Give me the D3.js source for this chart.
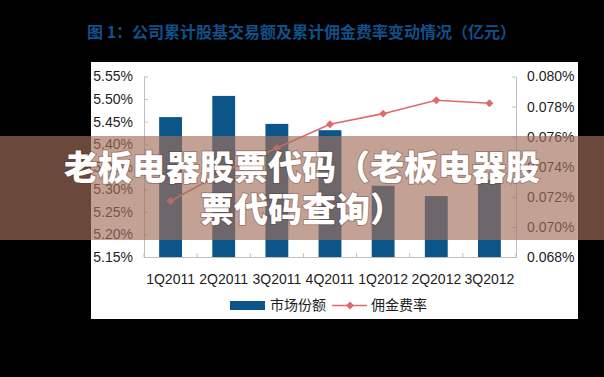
<!DOCTYPE html>
<html><head><meta charset="utf-8">
<script src="https://cdn.jsdelivr.net/npm/d3@7"></script>
<style>
html,body{margin:0;padding:0;background:#000;}
svg{display:block;}
</style></head>
<body>
<script>
const categories = ["1Q2011","2Q2011","3Q2011","4Q2011","1Q2012","2Q2012","3Q2012"];
const marketShare = [5.460, 5.507, 5.445, 5.431, 5.308, 5.285, 5.321];
const commissionRate = [0.07172, 0.07365, 0.07525, 0.07682, 0.07753, 0.07842, 0.07822];
const leftTicks = [5.15, 5.20, 5.25, 5.30, 5.35, 5.40, 5.45, 5.50, 5.55];
const rightTicks = [0.068, 0.070, 0.072, 0.074, 0.076, 0.078, 0.080];
const seriesNames = ["市场份额", "佣金费率"];
const titleText = "图 1：公司累计股基交易额及累计佣金费率变动情况（亿元）";
const overlayLines = ["老板电器股票代码（老板电器股", "票代码查询）"];

const W = 604, H = 377;
const svg = d3.select("body").append("svg").attr("width", W).attr("height", H);
svg.append("rect").attr("width", W).attr("height", H).attr("fill", "#000");

// title
svg.append("text").attr("x", 87).attr("y", 32.5).attr("dy", "0.35em")
  .attr("font-family", "'Noto Sans CJK SC', sans-serif").attr("font-weight", 700)
  .attr("font-size", 16).attr("fill", "#12508a").text(titleText);

// chart panel
svg.append("rect").attr("x", 91).attr("y", 62).attr("width", 487).attr("height", 257).attr("fill", "#fff");

const x = d3.scaleBand().domain(categories).range([144, 516]).paddingInner(0.57).paddingOuter(0.285);
const yL = d3.scaleLinear().domain([5.15, 5.55]).range([257, 76.5]);
const yR = d3.scaleLinear().domain([0.068, 0.080]).range([257, 76.5]);

const font = "'Liberation Sans', Arial, sans-serif";
const axisColor = "#bfbfbf";

// bars
svg.append("g").selectAll("rect").data(categories).join("rect")
  .attr("x", d => x(d)).attr("width", x.bandwidth())
  .attr("y", (d, i) => yL(marketShare[i]))
  .attr("height", (d, i) => yL(5.15) - yL(marketShare[i]))
  .attr("fill", "#0b5588");

// left axis
const gL = svg.append("g").attr("transform", "translate(144,0)")
  .call(d3.axisLeft(yL).tickValues(leftTicks).tickFormat(d => d3.format(".2f")(d) + "%")
    .tickSizeInner(-4).tickSizeOuter(0).tickPadding(11));
// right axis
const gR = svg.append("g").attr("transform", "translate(516,0)")
  .call(d3.axisRight(yR).tickValues(rightTicks).tickFormat(d => d3.format(".3f")(d) + "%")
    .tickSizeInner(-4).tickSizeOuter(0).tickPadding(11));
// bottom axis
const gB = svg.append("g").attr("transform", "translate(0,257)")
  .call(d3.axisBottom(x).tickSize(0).tickPadding(17).tickSizeOuter(0));
// category boundary ticks
const bounds = d3.range(categories.length + 1).map(i => x.range()[0] + i * x.step());
gB.append("g").selectAll("line").data(bounds).join("line")
  .attr("x1", d => d).attr("x2", d => d).attr("y1", 0).attr("y2", -4)
  .attr("stroke", axisColor);

[gL, gR, gB].forEach(g => {
  g.selectAll(".domain").attr("stroke", axisColor);
  g.selectAll(".tick line").attr("stroke", axisColor);
  g.selectAll("text").attr("font-family", font).attr("font-size", 14).attr("fill", "#1e1e1e");
});

// line
const lineColor = "#de6b6b";
const pts = categories.map((c, i) => [x(c) + x.bandwidth() / 2, yR(commissionRate[i])]);
svg.append("path").attr("d", d3.line()(pts)).attr("fill", "none")
  .attr("stroke", lineColor).attr("stroke-width", 1.6);
const diamond = d3.symbol().type(d3.symbolDiamond2).size(40);
svg.append("g").selectAll("path").data(pts).join("path")
  .attr("transform", d => `translate(${d[0]},${d[1]})`)
  .attr("d", diamond).attr("fill", lineColor);

// legend
svg.append("rect").attr("x", 230).attr("y", 301).attr("width", 35).attr("height", 9).attr("fill", "#0b5588");
svg.append("text").attr("x", 270).attr("y", 305.5).attr("dy", "0.35em")
  .attr("font-family", "'Noto Sans CJK SC', sans-serif").attr("font-size", 14).attr("fill", "#1e1e1e")
  .text(seriesNames[0]);
svg.append("line").attr("x1", 332).attr("x2", 367).attr("y1", 305.5).attr("y2", 305.5)
  .attr("stroke", lineColor).attr("stroke-width", 1.6);
svg.append("path").attr("transform", "translate(350,305.5)").attr("d", diamond).attr("fill", lineColor);
svg.append("text").attr("x", 371).attr("y", 305.5).attr("dy", "0.35em")
  .attr("font-family", "'Noto Sans CJK SC', sans-serif").attr("font-size", 14).attr("fill", "#1e1e1e")
  .text(seriesNames[1]);

// overlay band
svg.append("rect").attr("x", 0).attr("y", 136).attr("width", W).attr("height", 104)
  .attr("fill", "rgb(163,112,92)").attr("fill-opacity", 0.65);
svg.append("g").selectAll("text").data(overlayLines).join("text")
  .attr("x", W / 2).attr("y", (d, i) => 168 + i * 42).attr("dy", "0.35em")
  .attr("text-anchor", "middle")
  .attr("font-family", "'Noto Sans CJK SC', sans-serif").attr("font-weight", 900)
  .attr("font-size", 34).attr("fill", "#fff")
  .style("paint-order", "stroke").attr("stroke", "rgba(80,50,40,0.35)").attr("stroke-width", 2)
  .text(d => d);
</script>
</body></html>
